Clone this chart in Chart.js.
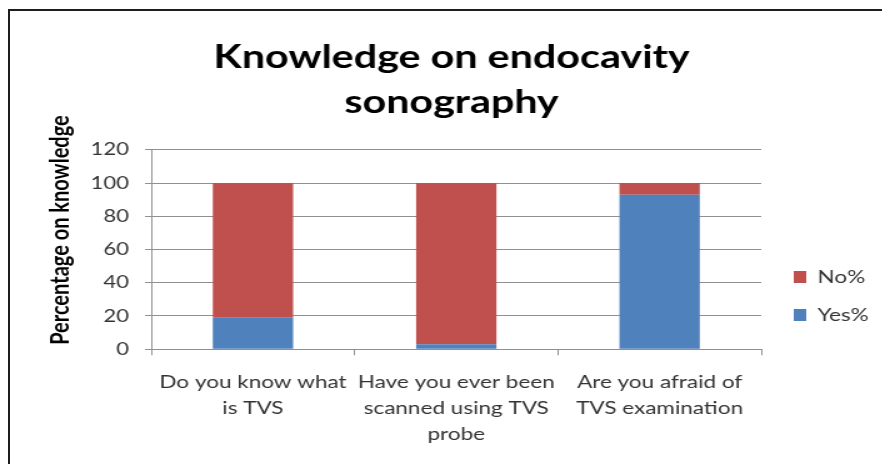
<!DOCTYPE html>
<html>
<head>
<meta charset="utf-8">
<script src="https://cdn.jsdelivr.net/npm/chart.js@4.4.1/dist/chart.umd.min.js"></script>
<style>
  html, body { margin: 0; padding: 0; background: #fff; }
  #wrap { position: relative; width: 882px; height: 464px; overflow: hidden; }
  #frame { position: absolute; left: 8px; top: 9px; width: 900px; height: 480px;
           border-left: 2px solid #1e1e1e; border-top: 2px solid #1e1e1e; box-sizing: border-box; }
  /* the chart is drawn on a narrower canvas and shown stretched to the page width */
  #plot { position: absolute; left: 0; top: 0; width: 706px; height: 464px;
          transform: scaleX(1.25); transform-origin: 0 0; }
</style>
</head>
<body>
<div id="wrap">
  <div id="plot"><canvas id="c" width="706" height="464"></canvas></div>
  <div id="frame"></div>
</div>
<script>
// Survey questions (multi-line axis labels)
const categories = [
  ['Do you know what', 'is TVS'],
  ['Have you ever been', 'scanned using TVS', 'probe'],
  ['Are you afraid of', 'TVS examination']
];
// Share of respondents per answer, in percent
const yesPct = [19, 3, 93];
const noPct = [81, 97, 7];
const yTicks = [0, 20, 40, 60, 80, 100, 120];

const FONT = 'Lato, Carlito, Calibri, "Open Sans", sans-serif';

// Centre the legend beside the plot and its category labels together
const legendPlacement = {
  id: 'legendPlacement',
  afterLayout(chart) {
    const lg = chart.legend;
    if (!lg) return;
    const dy = 48, dx = 6;
    lg.top += dy; lg.bottom += dy;
    lg.left += dx; lg.right += dx;
  }
};

new Chart(document.getElementById('c'), {
  type: 'bar',
  data: {
    labels: categories,
    datasets: [
      { label: 'Yes%', data: yesPct, backgroundColor: '#4F81BD', borderWidth: 0 },
      { label: 'No%', data: noPct, backgroundColor: '#C0504D', borderWidth: 0 }
    ]
  },
  plugins: [legendPlacement],
  options: {
    responsive: false,
    animation: false,
    devicePixelRatio: 1,
    layout: { padding: { left: 23.5, right: 7, top: 35, bottom: 3 } },
    datasets: { bar: { categoryPercentage: 1, barPercentage: 0.395 } },
    plugins: {
      tooltip: { enabled: false },
      title: {
        display: true,
        text: ['Knowledge on endocavity', 'sonography'],
        color: '#000',
        font: { family: FONT, size: 33, weight: 'bold', lineHeight: 1.36 },
        padding: { top: 0, bottom: 25 }
      },
      legend: {
        position: 'right',
        reverse: true,
        labels: {
          boxWidth: 10, boxHeight: 12, padding: 20,
          color: '#333',
          font: { family: FONT, size: 18 }
        }
      }
    },
    scales: {
      x: {
        stacked: true,
        grid: { display: true, drawOnChartArea: false, drawTicks: true, tickLength: 6, color: '#909090', offset: true },
        border: { display: true, color: '#909090' },
        ticks: { color: '#333', font: { family: FONT, size: 18, lineHeight: 1.44 }, maxRotation: 0, autoSkip: false, padding: 14 }
      },
      y: {
        stacked: true,
        min: 0, max: 120,
        afterBuildTicks: (axis) => { axis.ticks = yTicks.map(v => ({ value: v })); },
        grid: { color: '#909090', tickLength: 5, lineWidth: 1 },
        border: { display: true, color: '#909090' },
        ticks: { color: '#333', font: { family: FONT, size: 17.5 }, padding: 13 },
        title: {
          display: true,
          // leading spaces lift the rotated caption a little above the axis centre
          text: '        Percentage on knowledge',
          color: '#000',
          font: { family: FONT, size: 20, weight: 'bold' },
          padding: { top: 13.3, bottom: -1.2 }
        }
      }
    }
  }
});
</script>
</body>
</html>
